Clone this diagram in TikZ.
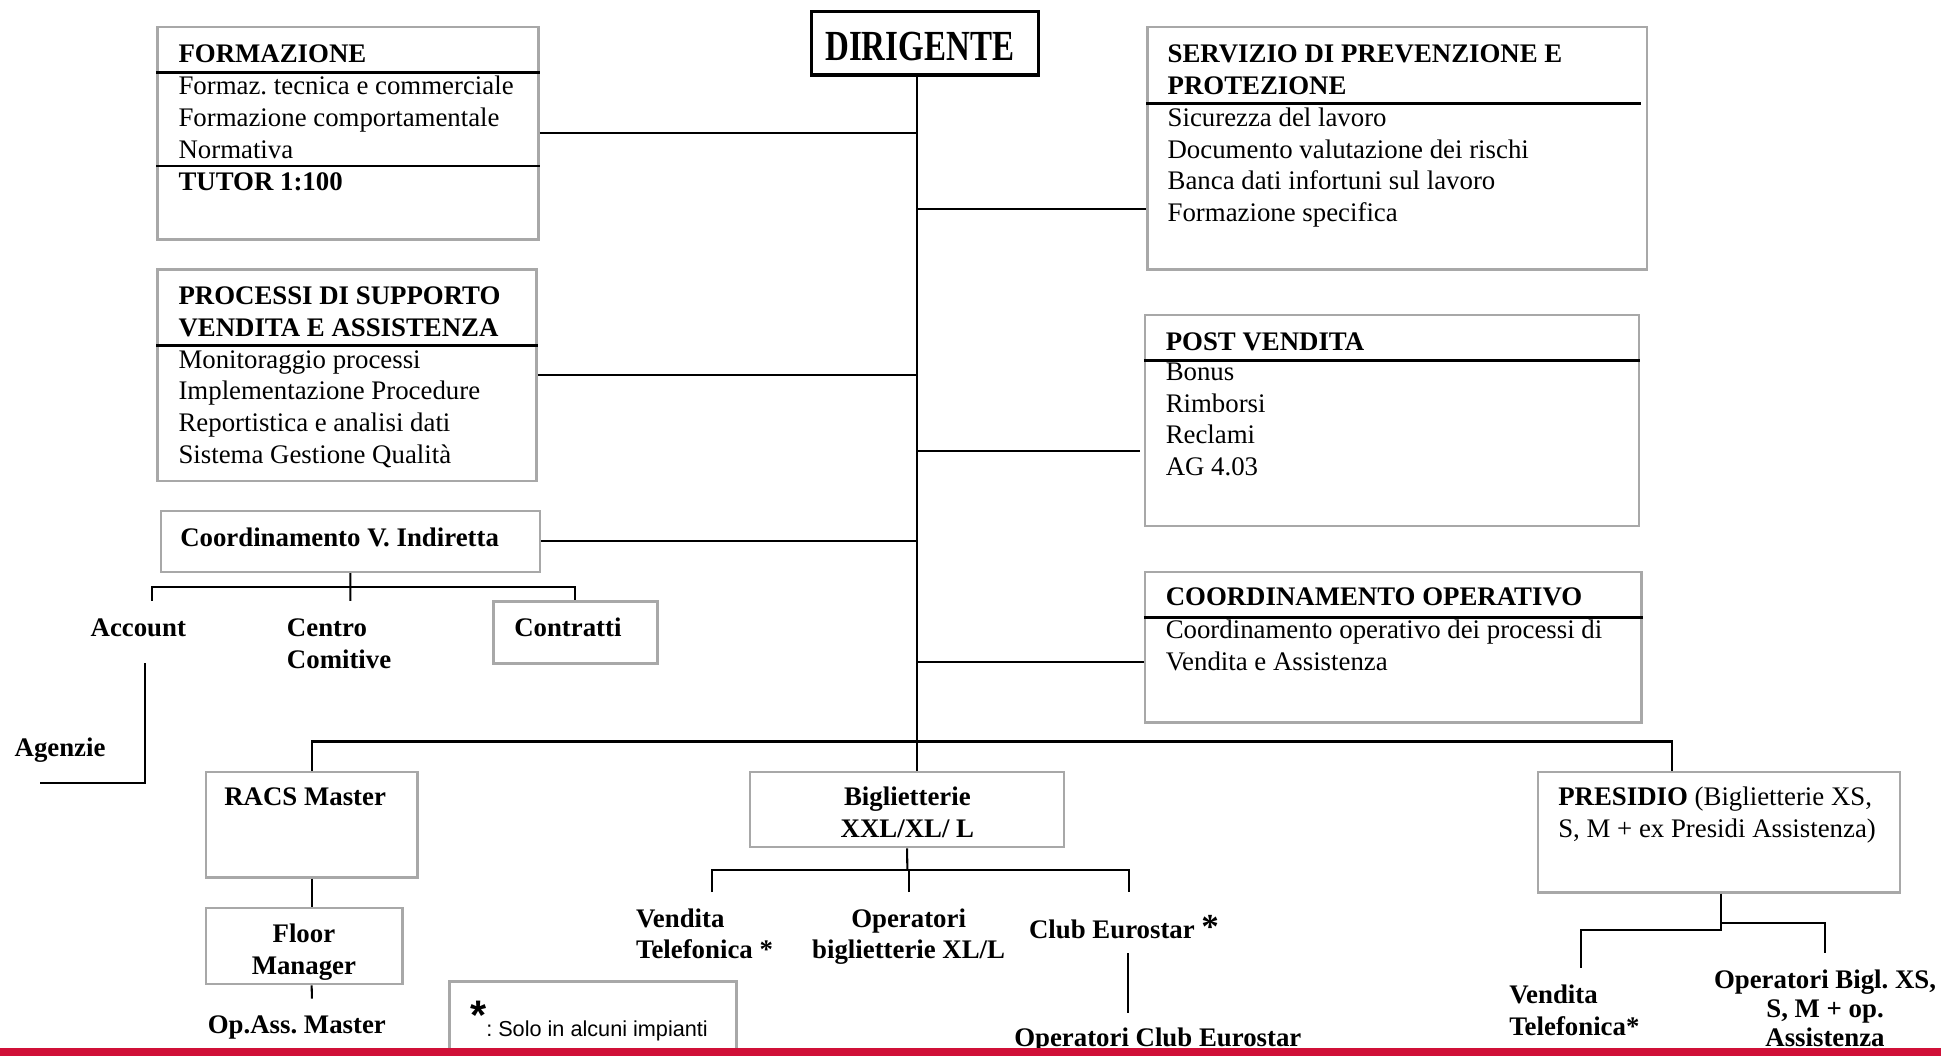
\documentclass[tikz,border=0pt]{standalone}
\usepackage{fontspec}
\setmainfont{Liberation Serif}
\setsansfont{Liberation Sans}
\definecolor{boxgray}{RGB}{168,168,168}
\definecolor{barred}{RGB}{208,16,56}
\frenchspacing
\begin{document}
\begin{tikzpicture}[x=0.6pt,y=-0.6pt,line width=1pt,font=\fontsize{13}{15.4}\selectfont]
\tikzstyle{office}=[draw=boxgray,line width=1.2pt,rectangle,inner sep=0pt]
\tikzstyle{chief}=[draw,line width=1.6pt,rectangle,inner sep=0pt]
\tikzstyle{item}=[inner sep=0pt,anchor=base west,align=left]
\tikzstyle{title}=[item,font=\fontsize{13}{15.4}\selectfont\bfseries]
\tikzstyle{staff}=[inner sep=0pt,anchor=base,align=center,font=\fontsize{13}{15.4}\selectfont\bfseries]
\tikzstyle{rule}=[line width=1.4pt]
\useasboundingbox (0,0) rectangle (1568,853);
% boxes
\node[chief,minimum width=109.8pt,minimum height=30.7pt] (dirig) at (747.2,35) {};
\node[office,minimum width=184.6pt,minimum height=103.1pt] (form) at (281.25,107.7) {};
\node[office,minimum width=183.7pt,minimum height=102.5pt] (proc) at (280.5,303) {};
\node[office,minimum width=183.8pt,minimum height=29.5pt] (coordv) at (283.05,437.35) {};
\node[office,minimum width=242.1pt,minimum height=117.5pt] (serv) at (1128.75,119.7) {};
\node[office,minimum width=239.4pt,minimum height=102.4pt] (post) at (1124.5,339.6) {};
\node[office,minimum width=240.6pt,minimum height=73.1pt] (coordop) at (1125.5,522.8) {};
\node[office,minimum width=79.4pt,minimum height=30.1pt] (contr) at (464.85,510.85) {};
\node[office,minimum width=102.5pt,minimum height=51.1pt] (racs) at (251.75,666.2) {};
\node[office,minimum width=95.3pt,minimum height=37pt] (floor) at (245.75,764.15) {};
\node[office,minimum width=152.1pt,minimum height=36.5pt] (bigl) at (732.75,654) {};
\node[office,minimum width=175.5pt,minimum height=58.4pt] (pres) at (1388.75,672.3) {};
% texts in the boxes (multi-line nodes sit on their last line)
\node[staff,font=\fontsize{16}{18}\selectfont\bfseries] (dirigtxt) at (743,48.5) {\scalebox{1}[1.3]{DIRIGENTE}};
\node[title] (formhead) at (143.4,50.3) {FORMAZIONE};
\node[item] (formlist) at (143.4,128) {Formaz. tecnica e commerciale\\Formazione comportamentale\\Normativa};
\node[title] (tutor) at (143.4,153.6) {TUTOR 1:100};
\draw[rule] (form.west |- 0,58.5) -- (form.east |- 0,58.5);
\draw[rule] (form.west |- 0,134.1) -- (form.east |- 0,134.1);
\node[title] (prochead) at (143.4,271.7) {PROCESSI DI SUPPORTO\\VENDITA E ASSISTENZA};
\node[item] (proclist) at (143.4,374.3) {Monitoraggio processi\\Implementazione Procedure\\Reportistica e analisi dati\\Sistema Gestione Qualità};
\draw[rule] (proc.west |- 0,278.8) -- (proc.east |- 0,278.8);
\node[title] (coordvtxt) at (144.8,441.5) {Coordinamento V. Indiretta};
\node[title] (servhead) at (942.4,76) {SERVIZIO DI PREVENZIONE E\\PROTEZIONE};
\node[item] (servlist) at (942.4,179) {Sicurezza del lavoro\\Documento valutazione dei rischi\\Banca dati infortuni sul lavoro\\Formazione specifica};
\draw[rule] (serv.west |- 0,83.5) -- (1326,83.5);
\node[title] (posthead) at (940.9,282.9) {POST VENDITA};
\node[item] (postlist) at (940.9,384.3) {Bonus\\Rimborsi\\Reclami\\AG 4.03};
\draw[rule] (post.west |- 0,291) -- (post.east |- 0,291);
\node[title] (coordophead) at (940.9,489.5) {COORDINAMENTO OPERATIVO};
\node[item] (coordoplist) at (940.9,541.4) {Coordinamento operativo dei processi di\\Vendita e Assistenza};
\draw[rule] (coordop.west |- 0,498.6) -- (coordop.east |- 0,498.6);
\node[title] (contrtxt) at (414.6,514) {Contratti};
\node[staff] (racstxt) at (246.5,651) {RACS Master};
\node[staff] (floortxt) at (245.5,787.3) {Floor\\Manager};
\node[staff] (bigltxt) at (733,676.7) {Biglietterie\\XXL/XL/ L};
\node[item] (prestxt) at (1258,676.7) {\textbf{PRESIDIO} (Biglietterie XS,\\S, M + ex Presidi Assistenza)};
% free labels
\node[title] (account) at (72.4,514) {Account};
\node[title] (centro) at (231,539.7) {Centro\\Comitive};
\node[title] (agenzie) at (11,611.5) {Agenzie};
\node[staff] (opass) at (239.8,834.5) {Op.Ass. Master};
\node[title] (vendtel) at (513,774.6) {Vendita\\Telefonica *};
\node[staff] (opbigl) at (734,774.6) {Operatori\\biglietterie XL/L};
\node[title] (club) at (830.5,757.8) {Club Eurostar {\fontsize{17}{17}\selectfont *}};
\node[title] (opclub) at (818.5,845.5) {Operatori Club Eurostar};
\node[title] (vendtel2) at (1218.4,836.2) {Vendita\\Telefonica*};
\node[staff,font=\fontsize{13}{14.1}\selectfont\bfseries] (opxs) at (1474.3,845.4) {Operatori Bigl. XS,\\S, M + op.\\Assistenza};
% trunk and branches
\coordinate (trunk) at (741,0);
\draw (trunk |- dirig.south) -- (trunk |- bigl.north);
\draw (form.east) -- (form.east -| trunk);
\draw (proc.east) -- (proc.east -| trunk);
\draw (coordv.east) -- (coordv.east -| trunk);
\coordinate (jserv) at (741,168.7);
\draw (jserv) -- (jserv -| serv.west);
\coordinate (jpost) at (741,364.5);
\coordinate (epost) at (921,364.5);
\draw (jpost) -- (epost);
\coordinate (jcoord) at (741,534.8);
\draw (jcoord) -- (jcoord -| coordop.west);
\coordinate (jpres) at (1351,599);
\draw (racs.north) |- (jpres) -- (jpres |- pres.north);
% indiretta
\coordinate (vbar) at (283,474);
\coordinate (vacc) at (123,485.5);
\coordinate (vcen) at (283,485.5);
\draw (coordv.south) -- (vcen);
\draw (vacc) |- (vbar) -| (contr.north);
\coordinate (ag1) at (117.4,535.6);
\coordinate (ag2) at (32.5,632.6);
\draw (ag1) |- (ag2);
% racs
\coordinate (opass1) at (252,806.7);
\draw (racs.south) -- (racs.south |- floor.north);
\draw (racs.south |- floor.south) -- (opass1);
% biglietterie
\coordinate (bbar) at (733,703);
\coordinate (bvend) at (575.5,720.6);
\coordinate (bop) at (734.4,720.6);
\coordinate (bclub) at (912,720.6);
\draw (bigl.south) -- (bbar);
\draw (bvend) |- (bbar) -| (bclub);
\draw (bop) -- (bop |- bbar);
\coordinate (club1) at (911.4,770);
\coordinate (club2) at (911.4,818.4);
\draw (club1) -- (club2);
% presidio
\coordinate (pstem) at (1390,751.3);
\coordinate (pbr) at (1390,745.3);
\coordinate (pvend) at (1277,782.2);
\coordinate (pop) at (1474.3,769.6);
\draw (pres.south -| pstem) -- (pstem) -| (pvend);
\draw (pbr) -| (pop);
% note and bottom bar
\node[office,minimum width=139.2pt,minimum height=40pt,anchor=north west] (note) at (362,792) {};
\node[item,font=\fontsize{10.5}{12}\sffamily] (notetxt) at (379,837.5) {\raisebox{3.5pt}{\fontsize{20}{20}\selectfont\bfseries *}: Solo in alcuni impianti};
\fill[barred] (0,846.5) rectangle (1568,853);
\end{tikzpicture}
\end{document}
